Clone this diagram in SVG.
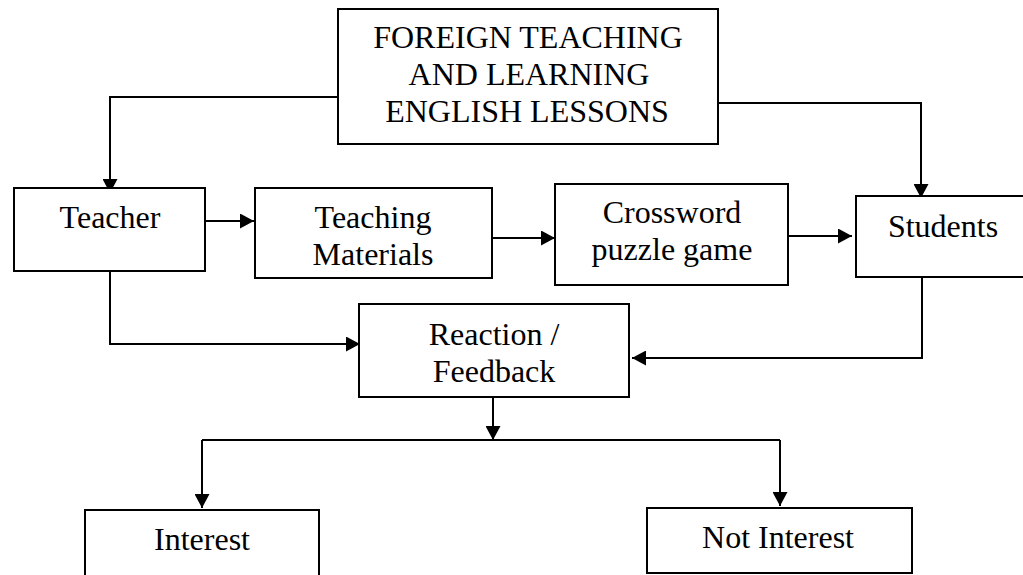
<svg xmlns="http://www.w3.org/2000/svg" width="1023" height="575" viewBox="0 0 1023 575">
<style>
.box{fill:#fff;stroke:#000;stroke-width:2}
.t{font-family:"Liberation Serif","Times New Roman",serif;font-size:32px;fill:#000;text-anchor:middle}
.c{fill:none;stroke:#000;stroke-width:2}
</style>
<defs>
<marker id="ah" markerUnits="userSpaceOnUse" markerWidth="14" markerHeight="15" viewBox="0 0 14 15" refX="14" refY="7.5" orient="auto">
<path d="M0,0 L14,7.5 L0,15 Z" fill="#000"/>
</marker>
</defs>
<rect width="1023" height="575" fill="#fff"/>
<g id="connectors">
<path class="c" d="M338,97 H110 V193" marker-end="url(#ah)"/>
<path class="c" d="M718,103 H921 V198" marker-end="url(#ah)"/>
<path class="c" d="M201,221 H254" marker-end="url(#ah)"/>
<path class="c" d="M492,238 H555" marker-end="url(#ah)"/>
<path class="c" d="M788,236 H852" marker-end="url(#ah)"/>
<path class="c" d="M110,271 V344 H360" marker-end="url(#ah)"/>
<path class="c" d="M922,277 V358 H632" marker-end="url(#ah)"/>
<path class="c" d="M493,397 V440" marker-end="url(#ah)"/>
<path class="c" d="M202,440 H780"/>
<path class="c" d="M202,440 V508" marker-end="url(#ah)"/>
<path class="c" d="M780,440 V506" marker-end="url(#ah)"/>
</g>
<g id="node-foreign">
<rect class="box" x="338" y="9" width="380" height="135"/>
<text class="t" x="528" y="48">FOREIGN TEACHING</text>
<text class="t" x="529" y="85">AND LEARNING</text>
<text class="t" x="527" y="122">ENGLISH LESSONS</text>
</g>
<g id="node-teacher">
<rect class="box" x="14" y="188" width="191" height="83"/>
<text class="t" x="110" y="228">Teacher</text>
</g>
<g id="node-materials">
<rect class="box" x="255" y="188" width="237" height="90"/>
<text class="t" x="373" y="228">Teaching</text>
<text class="t" x="373" y="265">Materials</text>
</g>
<g id="node-crossword">
<rect class="box" x="555" y="184" width="233" height="101"/>
<text class="t" x="672" y="223">Crossword</text>
<text class="t" x="672" y="260">puzzle game</text>
</g>
<g id="node-students">
<rect class="box" x="856" y="196" width="180" height="81"/>
<text class="t" x="943" y="237">Students</text>
</g>
<g id="node-reaction">
<rect class="box" x="359" y="304" width="270" height="93"/>
<text class="t" x="494" y="345">Reaction /</text>
<text class="t" x="494" y="382">Feedback</text>
</g>
<g id="node-interest">
<rect class="box" x="85" y="510" width="234" height="80"/>
<text class="t" x="202" y="550">Interest</text>
</g>
<g id="node-notinterest">
<rect class="box" x="647" y="508" width="265" height="65"/>
<text class="t" x="778" y="548">Not Interest</text>
</g>
</svg>
